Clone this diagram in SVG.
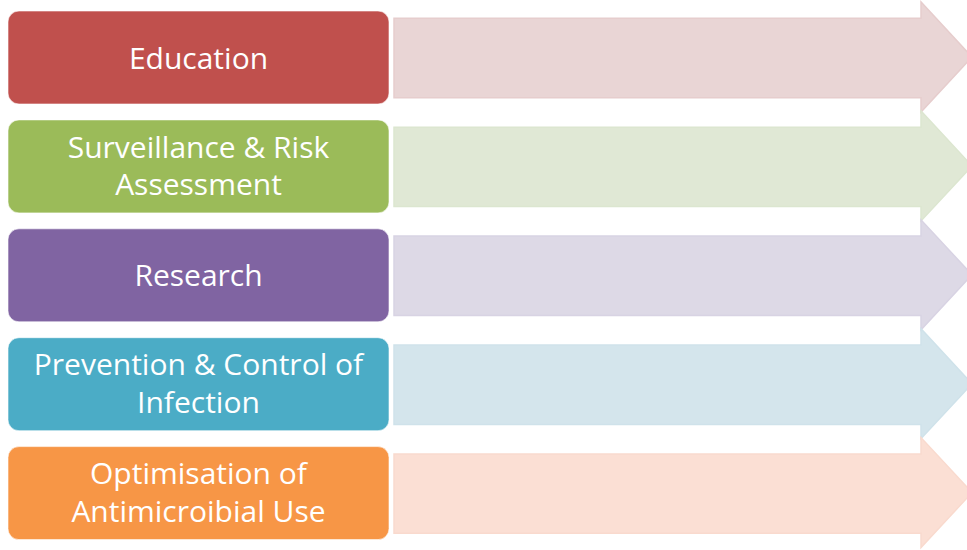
<svg xmlns="http://www.w3.org/2000/svg" width="967" height="550" viewBox="0 0 967 550">
  <defs>
    <style>
      .box { stroke: #ffffff; stroke-width: 1; stroke-opacity: 0.6; }
      .lbl { font-family: "Open Sans", "Noto Sans", "Liberation Sans", sans-serif; font-size: 30px; fill: #ffffff; text-anchor: middle; }
      .arr { stroke-width: 1.5; stroke-linejoin: miter; }
    </style>
    <path id="arrowShape" d="M394,18.3 H921 V2 L972,57 L921,112 V97.7 H394 Z"/>
  </defs>
  <rect width="967" height="550" fill="#ffffff"/>

  <!-- pale arrows behind the coloured labels -->
  <g id="connectors">
    <use href="#arrowShape" class="arr" fill="#E9D5D5" stroke="#E6CDCD"/>
    <use href="#arrowShape" class="arr" fill="#E0E8D5" stroke="#DCE6D0" transform="translate(0,108.9)"/>
    <use href="#arrowShape" class="arr" fill="#DDD9E6" stroke="#D8D3E3" transform="translate(0,217.8)"/>
    <use href="#arrowShape" class="arr" fill="#D4E5EC" stroke="#CFE2EA" transform="translate(0,326.7)"/>
    <use href="#arrowShape" class="arr" fill="#FBDFD4" stroke="#F9DACE" transform="translate(0,435.6)"/>
  </g>

  <g id="education">
    <rect class="box" x="8" y="11" width="381" height="93" rx="11" fill="#C0504D"/>
    <text class="lbl" x="198.5" y="68.5">Education</text>
  </g>

  <g id="surveillance">
    <rect class="box" x="8" y="119.9" width="381" height="93" rx="11" fill="#9BBB59"/>
    <text class="lbl" x="198.5" y="157.6">Surveillance &amp; Risk</text>
    <text class="lbl" x="198.5" y="195.2">Assessment</text>
  </g>

  <g id="research">
    <rect class="box" x="8" y="228.8" width="381" height="93" rx="11" fill="#8064A2"/>
    <text class="lbl" x="198.5" y="286">Research</text>
  </g>

  <g id="prevention">
    <rect class="box" x="8" y="337.7" width="381" height="93" rx="11" fill="#4BACC6"/>
    <text class="lbl" x="198.5" y="375">Prevention &amp; Control of</text>
    <text class="lbl" x="198.5" y="412.7">Infection</text>
  </g>

  <g id="optimisation">
    <rect class="box" x="8" y="446.6" width="381" height="93" rx="11" fill="#F79646"/>
    <text class="lbl" x="198.5" y="483.5">Optimisation of</text>
    <text class="lbl" x="198.5" y="521.5">Antimicroibial Use</text>
  </g>
</svg>
